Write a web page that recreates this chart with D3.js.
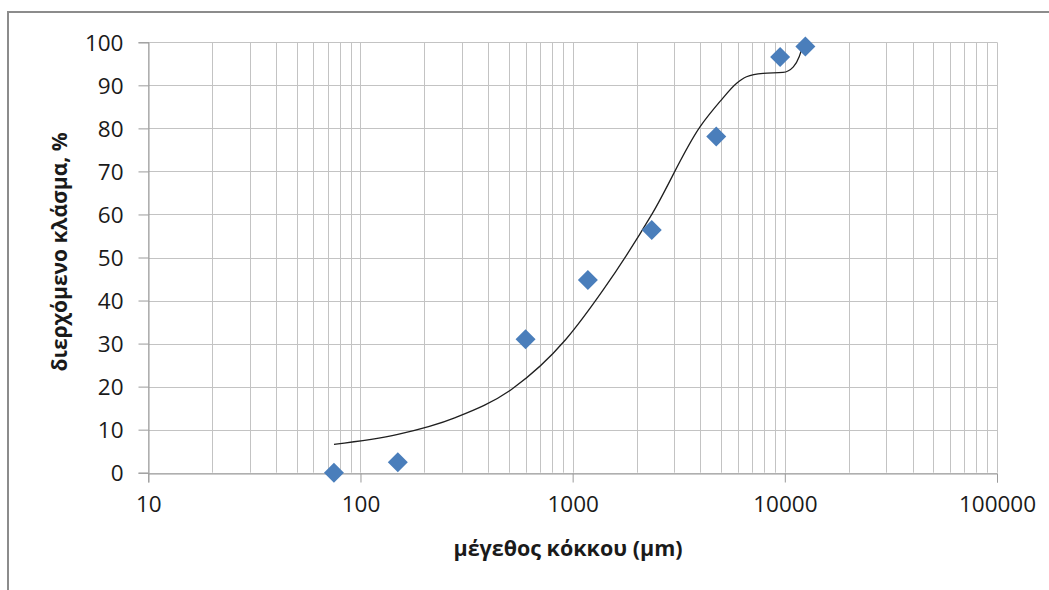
<!DOCTYPE html>
<html>
<head>
<meta charset="utf-8">
<script src="https://cdn.jsdelivr.net/npm/d3@7"></script>
<style>
    body { margin: 0; background: #fff; }
    svg text { font-family: "Open Sans", sans-serif; fill: #1a1a1a; }
</style>
</head>
<body>
<div class="chart-container"></div>
<script>
// sieve sizes (μm) and measured passing fraction (%)
var sieveSizes = [75, 150, 600, 1180, 2360, 4750, 9500, 12500];
var passingPercent = [0, 2.4, 31, 44.8, 56.4, 78.1, 96.6, 99];

// smoothed trend line
var curveSizes = [75, 150, 280, 520, 930, 1390, 2380, 3990, 4940, 5930, 6600, 7900, 9800, 10970, 11700, 12300];
var curvePercent = [6.6, 8.9, 12.8, 19.5, 31.0, 42.4, 60.3, 80.4, 86.2, 90.5, 92.0, 92.8, 93.0, 94.3, 96.7, 100.2];

var xTickLabels = [10, 100, 1000, 10000, 100000];
var yTickLabels = [0, 10, 20, 30, 40, 50, 60, 70, 80, 90, 100];

var xTitle = "μέγεθος κόκκου (μm)";
var yTitle = "διερχόμενο κλάσμα, %";

function initialize()
{
    var width = 1049, height = 590;
    var left = 148.3, right = 997, top = 42.3, bottom = 472.7;

    var svg = d3.select(".chart-container")
            .append("svg")
            .attr("width", width)
            .attr("height", height);

    // outer chart frame (runs off the right / bottom edge)
    svg.append("rect")
            .attr("x", 8)
            .attr("y", 12)
            .attr("width", width + 20)
            .attr("height", height + 20)
            .attr("fill", "none")
            .attr("stroke", "#8c8c8c")
            .attr("stroke-width", 2);

    var x = d3.scaleLog().domain([10, 100000]).range([left, right]);
    var y = d3.scaleLinear().domain([0, 100]).range([bottom, top]);

    // vertical grid, every 1..9 of each decade
    var minor = [];
    for (var d = 10; d < 100000; d *= 10) {
        for (var k = 1; k < 10; k++) minor.push(d * k);
    }
    minor.push(100000);

    svg.append("g")
            .selectAll("line")
            .data(minor)
            .enter()
            .append("line")
            .attr("x1", function (d) { return Math.round(x(d)) + 0.5; })
            .attr("x2", function (d) { return Math.round(x(d)) + 0.5; })
            .attr("y1", top)
            .attr("y2", bottom)
            .attr("stroke", "#c3c3c3")
            .attr("stroke-width", 1);

    svg.append("g")
            .selectAll("line")
            .data(yTickLabels)
            .enter()
            .append("line")
            .attr("x1", left)
            .attr("x2", right)
            .attr("y1", function (d) { return Math.round(y(d)) + 0.5; })
            .attr("y2", function (d) { return Math.round(y(d)) + 0.5; })
            .attr("stroke", "#c3c3c3")
            .attr("stroke-width", 1);

    // axes
    var xAxis = d3.axisBottom(x)
            .tickValues(xTickLabels)
            .tickFormat(function (d) { return String(d); })
            .tickSize(9)
            .tickPadding(14);
    var gx = svg.append("g")
            .attr("transform", "translate(0," + (Math.round(bottom) + 0.5) + ")")
            .call(xAxis);

    var yAxis = d3.axisLeft(y)
            .tickValues(yTickLabels)
            .tickSize(10)
            .tickPadding(15);
    var gy = svg.append("g")
            .attr("transform", "translate(" + (Math.round(left) + 0.5) + ",0)")
            .call(yAxis);

    [gx, gy].forEach(function (g) {
        g.select(".domain").attr("stroke", "#9a9a9a");
        g.selectAll(".tick line").attr("stroke", "#9a9a9a");
        g.selectAll(".tick text")
                .attr("font-family", "Open Sans")
                .attr("font-size", 22.5)
                .attr("fill", "#1a1a1a");
    });
    gy.selectAll(".tick text").attr("dy", "0.36em");
    gx.selectAll(".tick text").attr("dy", "0.71em");

    // trend curve
    var curvePts = curveSizes.map(function (s, i) { return [s, curvePercent[i]]; });
    var line = d3.line()
            .x(function (d) { return x(d[0]); })
            .y(function (d) { return y(d[1]); })
            .curve(d3.curveMonotoneX);

    svg.append("path")
            .datum(curvePts)
            .attr("d", line)
            .attr("fill", "none")
            .attr("stroke", "#1f1f1f")
            .attr("stroke-width", 1.3);

    // measured points as diamonds
    var pts = sieveSizes.map(function (s, i) { return [s, passingPercent[i]]; });
    svg.append("g")
            .selectAll("path")
            .data(pts)
            .enter()
            .append("path")
            .attr("d", d3.symbol().type(d3.symbolSquare).size(200))
            .attr("transform", function (d) {
                return "translate(" + x(d[0]) + "," + y(d[1]) + ") rotate(45)";
            })
            .attr("fill", "#4a7ebb");

    // titles
    svg.append("text")
            .attr("x", 568)
            .attr("y", 556)
            .attr("text-anchor", "middle")
            .attr("font-weight", "bold")
            .attr("font-size", 21.5)
            .text(xTitle);

    svg.append("text")
            .attr("transform", "translate(67,252) rotate(-90)")
            .attr("text-anchor", "middle")
            .attr("font-weight", "bold")
            .attr("font-size", 21)
            .text(yTitle);
}

initialize();
</script>
</body>
</html>
